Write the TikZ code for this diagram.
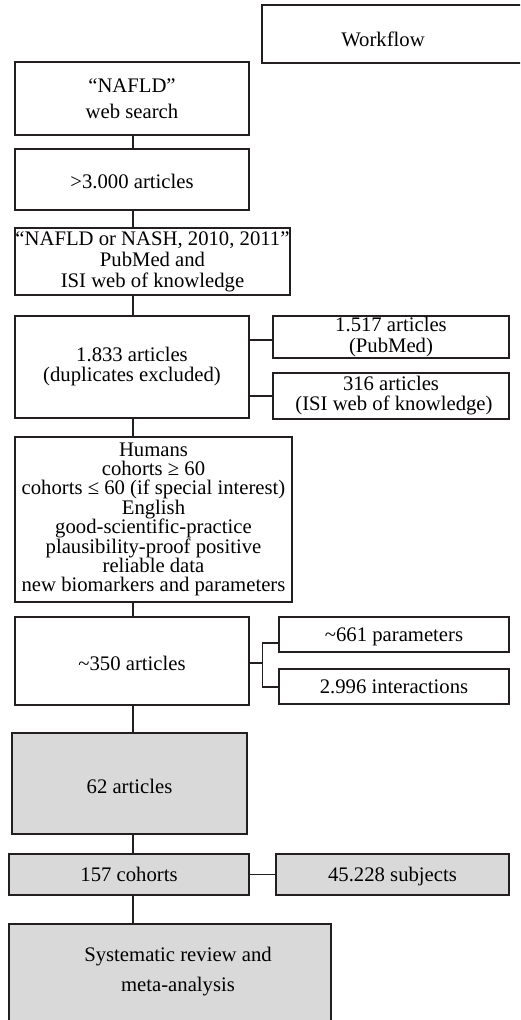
\documentclass[tikz,border=0pt]{standalone}
\usepackage{fontspec}
\setmainfont{Liberation Serif}
\definecolor{ln}{HTML}{231F20}
\definecolor{gr}{HTML}{D9D9D9}
\tikzset{
  box/.style={draw=ln, line width=1.1pt, rectangle, inner sep=0pt, align=center,
    font=\fontsize{20.7}{20}\selectfont},
  gbox/.style={box, fill=gr},
  oneline/.style={text depth=0pt},
  conn/.style={draw=ln, line width=1.1pt},
  txt/.style={inner sep=0pt, align=center, font=\fontsize{20.7}{20}\selectfont}
}
\begin{document}
\begin{tikzpicture}[x=1pt,y=-1pt]
\useasboundingbox (0,0) rectangle (520,1020);
\clip (0,0) rectangle (520,1020);
% top workflow box (open on the right)
\node[box, minimum width=278, minimum height=58] (wf) at (401,34) {};
\node[txt] (wft) at (383,39) {Workflow};
% main column
\node[box, minimum width=234, minimum height=73, font=\fontsize{20.7}{26}\selectfont] (n1) at (132,98.5) {“NAFLD”\\web search};
\node[box, oneline, text height=17pt, minimum width=234, minimum height=61] (n2) at (132,179.5) {>3.000 articles};
\node[box, minimum width=275, minimum height=67, font=\fontsize{20.7}{21}\selectfont] (n3) at (152.5,261.5) {“NAFLD or NASH, 2010, 2011”\\PubMed and\\ISI web of knowledge};
\node[box, minimum width=234, minimum height=102] (n4) at (132,367) {1.833 articles\\(duplicates excluded)};
\node[box, minimum width=236, minimum height=42, font=\fontsize{20.7}{21}\selectfont] (r1) at (391,337) {1.517 articles\\(PubMed)};
\node[box, minimum width=236, minimum height=46] (r2) at (391,396) {316 articles\\\hspace{6pt}(ISI web of knowledge)};
\node[box, minimum width=277, minimum height=165, font=\fontsize{20.7}{19.4}\selectfont] (n5) at (153.5,519.5) {Humans\\cohorts ≥ 60\\cohorts ≤ 60 (if special interest)\\English\\good-scientific-practice\\plausibility-proof positive\\reliable data\\new biomarkers and parameters};
\node[box, oneline, text height=18pt, minimum width=234, minimum height=88] (n6) at (132,661) {\textasciitilde350 articles};
\node[box, oneline, text height=13pt, minimum width=230, minimum height=35] (r3) at (394,634.5) {\textasciitilde661 parameters};
\node[box, oneline, text height=14pt, minimum width=230, minimum height=35] (r4) at (394,686.5) {2.996 interactions};
\node[gbox, oneline, text height=20pt, minimum width=235, minimum height=101] (n7) at (129.5,783.5) {62 articles};
\node[gbox, oneline, text height=13pt, minimum width=240, minimum height=41] (n8) at (129,874.5) {157 cohorts};
\node[gbox, oneline, text height=13pt, minimum width=233, minimum height=41] (r5) at (392.5,874.5) {45.228 subjects};
\node[gbox, minimum width=322, minimum height=116] (n9) at (170,982) {};
\node[txt, font=\fontsize{20.7}{30}\selectfont] (n9t) at (178,972) {Systematic review and\\meta-analysis};
% spine
\coordinate (sp) at (133,0);
\draw[conn] (n1.south -| sp) -- (n2.north -| sp);
\draw[conn] (n2.south -| sp) -- (n3.north -| sp);
\draw[conn] (n3.south -| sp) -- (n4.north -| sp);
\draw[conn] (n4.south -| sp) -- (n5.north -| sp);
\draw[conn] (n5.south -| sp) -- (n6.north -| sp);
\draw[conn] (n6.south -| sp) -- (n7.north -| sp);
\draw[conn] (n7.south -| sp) -- (n8.north -| sp);
\draw[conn] (n8.south -| sp) -- (n9.north -| sp);
% side branches
\coordinate (a1) at (260,340);
\draw[conn] (a1 -| n4.east) -- (a1 -| r1.west);
\draw[conn] (n4.east |- r2.west) -- (r2.west);
\coordinate (elb) at (262.5,663);
\coordinate (e1) at (262.5,643);
\coordinate (e2) at (262.5,687);
\draw[conn] (elb -| n6.east) -- (elb);
\draw[conn] (e1 -| r3.west) -- (e1) -- (e2) -- (e2 -| r4.west);
\draw[conn] (n8.east) -- (r5.west);
\end{tikzpicture}
\end{document}
